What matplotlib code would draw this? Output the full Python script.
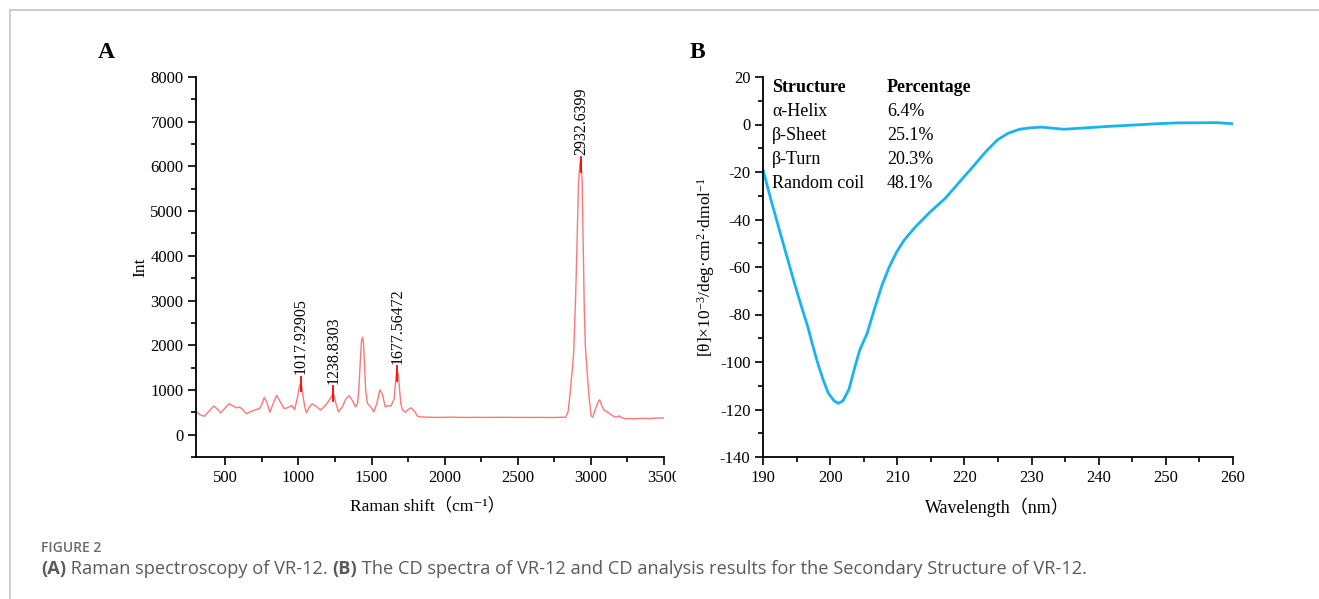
import matplotlib
matplotlib.use("Agg")
import matplotlib.pyplot as plt
from matplotlib.ticker import MultipleLocator
from matplotlib.transforms import Bbox
from matplotlib.lines import Line2D

# ---------------- data ----------------
raman_shift = [300, 330, 357, 390, 422, 448, 469, 500, 526, 555, 578, 599, 620, 643, 670,
               708, 734, 750, 766, 785, 805, 828, 852, 878, 904, 930, 956, 974, 995, 1005,
               1012, 1017, 1024, 1032, 1045, 1055, 1075, 1094, 1120, 1151, 1175, 1196, 1220,
               1232, 1238, 1245, 1255, 1274, 1300, 1325, 1347, 1370, 1391, 1405, 1415, 1425,
               1432, 1438, 1445, 1452, 1460, 1472, 1495, 1516, 1537, 1557, 1575, 1594, 1615,
               1633, 1655, 1665, 1672, 1677, 1684, 1692, 1700, 1711, 1732, 1750, 1771, 1795,
               1815, 1840, 1900, 1950, 2000, 2050, 2100, 2150, 2200, 2250, 2300, 2350, 2400,
               2450, 2500, 2550, 2600, 2650, 2700, 2750, 2800, 2827, 2845, 2860, 2870, 2882,
               2895, 2905, 2915, 2925, 2932, 2940, 2948, 2955, 2962, 2970, 2980, 2990, 3002,
               3012, 3030, 3045, 3060, 3075, 3090, 3120, 3150, 3169, 3183, 3195, 3210, 3234,
               3260, 3300, 3350, 3400, 3450, 3500]
raman_int = [520, 440, 410, 530, 640, 570, 486, 600, 690, 640, 600, 615, 560, 470, 510,
             560, 580, 680, 830, 720, 500, 700, 880, 720, 580, 610, 650, 560, 850, 1050,
             1120, 1130, 1050, 850, 600, 490, 620, 690, 640, 550, 620, 700, 820,
             890, 920, 860, 720, 510, 620, 800, 870, 760, 620, 700, 1100, 1750,
             2100, 2180, 2050, 1600, 1000, 700, 620, 510, 700, 1000, 900, 620, 650,
             640, 800, 1200, 1400, 1420, 1330, 1000, 700, 560, 500, 560, 600, 520,
             410, 395, 390, 385, 388, 392, 386, 385, 388, 386, 385, 388, 386,
             387, 385, 386, 384, 386, 385, 383, 390, 385, 520, 1000, 1350, 1800,
             3000, 4200, 5600, 6050, 6150, 5700, 4200, 2800, 2000, 1600, 1150, 750, 420,
             390, 560, 700, 780, 640, 550, 490, 420, 390, 400, 420, 380, 355,
             360, 355, 365, 360, 370, 375]
peak_pos = [1017.92905, 1238.8303, 1677.56472, 2932.6399]
peak_int = [1120, 910, 1360, 6030]
peak_labels = ["1017.92905", "1238.8303", "1677.56472", "2932.6399"]

cd_wl = [190, 191.2, 192.3, 193.4, 194.5, 195.6, 196.7, 197.4, 198.1, 198.9, 199.7, 200.6,
         201.2, 201.9, 202.8, 203.6, 204.4, 205.5, 206.6, 207.7, 208.8, 209.9, 211.0, 212.7,
         214.9, 217.1, 219.3, 221.5, 223.2, 224.9, 226.5, 228.2, 229.8, 231.5, 234.8, 238.1,
         241.4, 244.7, 248.6, 251.9, 254.7, 257.5, 260]
cd_theta = [-19, -31.9, -43, -54, -65, -75.5, -85.4, -93, -100, -107, -113, -116.4,
            -117.4, -116.4, -111.5, -103, -95, -88, -77.7, -67.8, -60, -53.7, -48.8, -43.1,
            -36.8, -31.2, -24.1, -17, -11.4, -6.5, -3.7, -2, -1.4, -1.1, -2, -1.4,
            -0.8, -0.3, 0.3, 0.7, 0.7, 0.8, 0.3]

structures = ["α-Helix", "β-Sheet", "β-Turn", "Random coil"]
percentages = ["6.4%", "25.1%", "20.3%", "48.1%"]

# ---------------- style ----------------
W, H = 1319, 599
plt.rcParams['font.family'] = ['Liberation Serif', 'DejaVu Serif', 'Noto Sans CJK SC']
plt.rcParams['mathtext.fontset'] = 'custom'
plt.rcParams['mathtext.rm'] = 'Liberation Serif'
plt.rcParams['mathtext.it'] = 'Liberation Serif:italic'
plt.rcParams['axes.unicode_minus'] = False

fig = plt.figure(figsize=(W / 100, H / 100), dpi=100)

def px_axes(l, r, t, b):
    return fig.add_axes([l / W, 1 - b / H, (r - l) / W, (b - t) / H])

def style_axes(ax):
    for s in ['top', 'right']:
        ax.spines[s].set_visible(False)
    for s in ['left', 'bottom']:
        ax.spines[s].set_linewidth(1.3)
    ax.tick_params(which='major', direction='out', length=6, width=1.2, labelsize=12, pad=3)
    ax.tick_params(which='minor', direction='out', length=3.5, width=1.2)

# ---------------- panel A ----------------
axA = px_axes(196, 664, 77, 457)
axA.plot(raman_shift, raman_int, color='#ff7676', lw=1.0)
axA.set_xlim(300, 3500)
axA.set_ylim(-500, 8000)
axA.xaxis.set_major_locator(MultipleLocator(500))
axA.xaxis.set_minor_locator(MultipleLocator(250))
axA.yaxis.set_major_locator(MultipleLocator(1000))
axA.yaxis.set_minor_locator(MultipleLocator(500))
style_axes(axA)
for xp, yp, lab in zip(peak_pos, peak_int, peak_labels):
    axA.plot([xp, xp], [yp - 150, yp + 170], color='#ff0000', lw=1.3)
    axA.text(xp, yp + 230, lab, rotation=90, ha='center', va='bottom', fontsize=11.5)

fig.text(140 / W, 1 - 267 / H, "Int", rotation=90, ha='center', va='center', fontsize=12.5)
fig.text(428 / W, 1 - 507 / H, "Raman shift（cm⁻¹）", ha='center', va='center', fontsize=12.5)
fig.text(106 / W, 1 - 53 / H, "A", ha='center', va='center', fontsize=17, fontweight='bold')

# ---------------- panel B ----------------
axB = px_axes(763, 1233, 77, 457)
axB.plot(cd_wl, cd_theta, color='#19b4f0', lw=2.0)
axB.set_xlim(190, 260)
axB.set_ylim(-140, 20)
axB.xaxis.set_major_locator(MultipleLocator(10))
axB.xaxis.set_minor_locator(MultipleLocator(5))
axB.yaxis.set_major_locator(MultipleLocator(20))
axB.yaxis.set_minor_locator(MultipleLocator(10))
style_axes(axB)

ty0 = 1 - (88 - 77) / 380
dy = 24 / 380
axB.text(0.019, ty0, "Structure", transform=axB.transAxes, ha='left', va='center',
         fontsize=13, fontweight='bold')
axB.text(0.264, ty0, "Percentage", transform=axB.transAxes, ha='left', va='center',
         fontsize=13, fontweight='bold')
for i, (s, p) in enumerate(zip(structures, percentages)):
    axB.text(0.019, ty0 - (i + 1) * dy, s, transform=axB.transAxes, ha='left', va='center', fontsize=13)
    axB.text(0.264, ty0 - (i + 1) * dy, p, transform=axB.transAxes, ha='left', va='center', fontsize=13)

fig.text(706 / W, 1 - 267 / H, r"[θ]×10$^{-3}$/deg·cm$^{2}$·dmol$^{-1}$", rotation=90,
         ha='center', va='center', fontsize=12.5)
fig.text(997 / W, 1 - 507 / H, "Wavelength（nm）", ha='center', va='center', fontsize=13)
fig.text(697 / W, 1 - 53 / H, "B", ha='center', va='center', fontsize=17, fontweight='bold')

# ---------------- frame & caption ----------------
fig.add_artist(Line2D([10 / W, 1], [1 - 10 / H, 1 - 10 / H], transform=fig.transFigure,
                      color='#c4c4c4', lw=1.2))
fig.add_artist(Line2D([10 / W, 10 / W], [0, 1 - 10 / H], transform=fig.transFigure,
                      color='#c4c4c4', lw=1.2))

cap_font = ['Open Sans', 'DejaVu Sans']
fig.text(41 / W, 1 - 548 / H, "FIGURE 2", ha='left', va='center', fontsize=10,
         color='#6a6a6a', family=cap_font, fontweight='semibold')

fig.canvas.draw()
renderer = fig.canvas.get_renderer()
parts = [("(A)", 'bold'), (" Raman spectroscopy of VR-12. ", 'normal'), ("(B)", 'bold'),
         (" The CD spectra of VR-12 and CD analysis results for the Secondary Structure of VR-12.", 'normal')]

# measure total width at a trial size, then set size to fit the caption span
trial = 12.0
total = 0
for txt, wt in parts:
    t = fig.text(0, 0, txt, fontsize=trial, family=cap_font, fontweight=wt)
    total += t.get_window_extent(renderer).width
    t.remove()
cap_size = trial * (1082 - 41) / total

xcur = 41
for txt, wt in parts:
    t = fig.text(xcur / W, 1 - 569 / H, txt, ha='left', va='center', fontsize=cap_size,
                 color='#5a5a5a', family=cap_font, fontweight=wt)
    xcur += t.get_window_extent(renderer).width

fig.canvas.draw()
for tk in axA.xaxis.get_major_ticks():
    if abs(tk.get_loc() - 3500) < 1e-6:
        tk.label1.set_clip_box(Bbox([[0, 0], [676, H]]))
        tk.label1.set_clip_on(True)

fig.savefig("out.png", dpi=100)
